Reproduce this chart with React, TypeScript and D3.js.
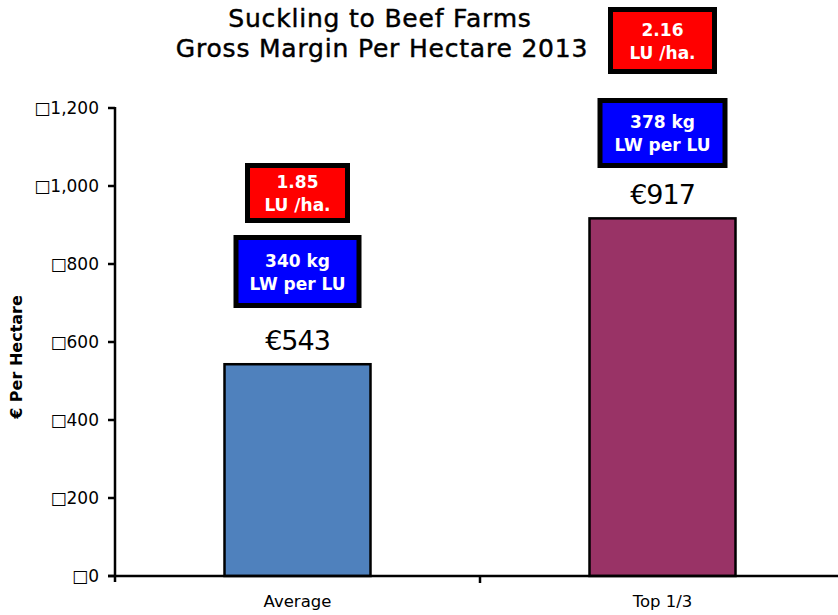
import React, { useEffect, useRef } from "react";
import * as d3 from "d3";

const categories = ["Average", "Top 1/3"];
const grossMargin = [543, 917];
const stockingRate = ["1.85", "2.16"];
const liveweight = ["340", "378"];
const yTicks = [0, 200, 400, 600, 800, 1000, 1200];

const W = 838;
const H = 615;
const FONT = "'DejaVu Sans', Verdana, sans-serif";

export default function App() {
  const ref = useRef<SVGSVGElement>(null);

  useEffect(() => {
    const svg = d3.select(ref.current);
    svg.selectAll("*").remove();

    const left = 115, right = 838, top = 108, bottom = 576;

    // band range runs a little past the right edge, the axis is cut there
    const x = d3.scaleBand<string>()
      .domain(categories)
      .range([left, 845])
      .paddingInner(0.6)
      .paddingOuter(0.3);
    const y = d3.scaleLinear().domain([0, 1200]).range([bottom, top]);

    // title
    const title = svg.append("text")
      .attr("text-anchor", "middle")
      .attr("font-family", FONT)
      .attr("font-size", 25)
      .attr("letter-spacing", 0.8)
      .attr("fill", "#000")
      .attr("stroke", "#000")
      .attr("stroke-width", 0.45);
    title.append("tspan").attr("x", 380).attr("y", 27).text("Suckling to Beef Farms");
    title.append("tspan").attr("x", 382).attr("y", 57).text("Gross Margin Per Hectare 2013");

    // bars
    svg.selectAll("rect.bar")
      .data(grossMargin)
      .enter()
      .append("rect")
      .attr("class", "bar")
      .attr("x", (d, i) => x(categories[i])!)
      .attr("y", d => y(d))
      .attr("width", x.bandwidth())
      .attr("height", d => bottom - y(d))
      .attr("fill", (d, i) => (i === 0 ? "#4F81BD" : "#993366"))
      .attr("stroke", "#000")
      .attr("stroke-width", 2.5);

    // y axis
    svg.append("line")
      .attr("x1", left).attr("x2", left)
      .attr("y1", top - 1).attr("y2", bottom + 6)
      .attr("stroke", "#000").attr("stroke-width", 2.5);
    yTicks.forEach(t => {
      svg.append("line")
        .attr("x1", left - 7).attr("x2", left)
        .attr("y1", y(t)).attr("y2", y(t))
        .attr("stroke", "#000").attr("stroke-width", 2.5);
      svg.append("text")
        .attr("x", left - 16)
        .attr("y", y(t))
        .attr("dy", "0.36em")
        .attr("text-anchor", "end")
        .attr("font-family", FONT)
        .attr("font-size", 17)
        .text("\u25A1" + d3.format(",")(t));
    });

    // x axis
    svg.append("line")
      .attr("x1", left - 7).attr("x2", right)
      .attr("y1", bottom).attr("y2", bottom)
      .attr("stroke", "#000").attr("stroke-width", 2.5);
    const mid = (x(categories[0])! + x.bandwidth() + x(categories[1])!) / 2;
    svg.append("line")
      .attr("x1", mid).attr("x2", mid)
      .attr("y1", bottom).attr("y2", bottom + 7)
      .attr("stroke", "#000").attr("stroke-width", 2.5);
    categories.forEach(c => {
      svg.append("text")
        .attr("x", x(c)! + x.bandwidth() / 2)
        .attr("y", 607)
        .attr("text-anchor", "middle")
        .attr("font-family", FONT)
        .attr("font-size", 16.5)
        .text(c);
    });

    // y axis title
    svg.append("text")
      .attr("transform", "translate(22,357) rotate(-90)")
      .attr("text-anchor", "middle")
      .attr("font-family", FONT)
      .attr("font-size", 16)
      .attr("font-weight", "bold")
      .text("€ Per Hectare");

    // value labels
    grossMargin.forEach((v, i) => {
      const cx = x(categories[i])! + x.bandwidth() / 2;
      svg.append("text")
        .attr("x", cx)
        .attr("y", y(v) - 14)
        .attr("text-anchor", "middle")
        .attr("font-family", FONT)
        .attr("font-size", 27)
        .attr("letter-spacing", -1)
        .text("€" + v);
    });

    // annotation boxes
    const boxes = [
      { cat: 0, color: "#FF0000", lines: [stockingRate[0], "LU /ha."], cy: 193, w: 105, h: 60 },
      { cat: 0, color: "#0000FF", lines: [liveweight[0] + " kg", "LW per LU"], cy: 271.5, w: 128, h: 73 },
      { cat: 1, color: "#FF0000", lines: [stockingRate[1], "LU /ha."], cy: 40.5, w: 109, h: 67 },
      { cat: 1, color: "#0000FF", lines: [liveweight[1] + " kg", "LW per LU"], cy: 133, w: 130, h: 70 },
    ];
    boxes.forEach(b => {
      const cx = x(categories[b.cat])! + x.bandwidth() / 2;
      svg.append("rect")
        .attr("x", cx - b.w / 2 + 2.5)
        .attr("y", b.cy - b.h / 2 + 2.5)
        .attr("width", b.w - 5)
        .attr("height", b.h - 5)
        .attr("fill", b.color)
        .attr("stroke", "#000")
        .attr("stroke-width", 5);
      const t = svg.append("text")
        .attr("text-anchor", "middle")
        .attr("font-family", FONT)
        .attr("font-size", 17)
        .attr("font-weight", "bold")
        .attr("fill", "#fff");
      t.append("tspan").attr("x", cx).attr("y", b.cy - 5).text(b.lines[0]);
      t.append("tspan").attr("x", cx).attr("y", b.cy + 18).text(b.lines[1]);
    });
  }, []);

  return (
    <svg
      ref={ref}
      width={W}
      height={H}
      style={{ display: "block", position: "absolute", left: 0, top: 0 }}
    />
  );
}
